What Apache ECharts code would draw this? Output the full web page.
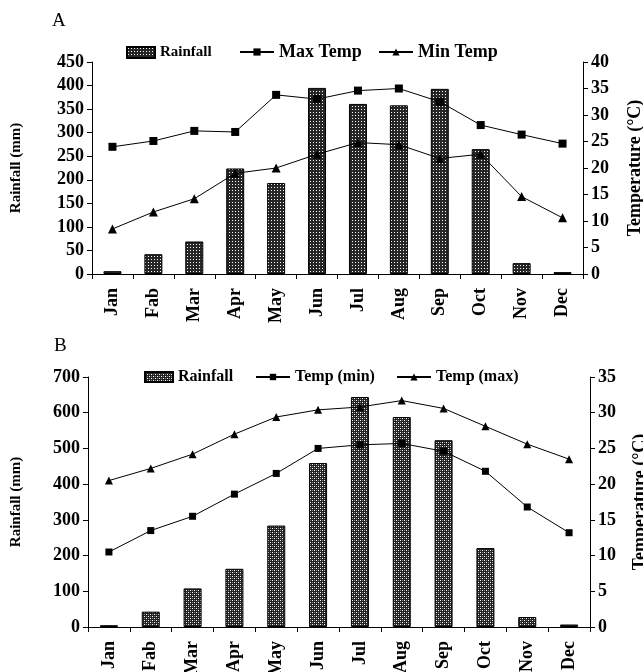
<!DOCTYPE html>
<html>
<head>
<meta charset="utf-8">
<script src="https://cdn.jsdelivr.net/npm/echarts@6/dist/echarts.min.js"></script>
<style>
    body { margin: 0; background: #fff; }
    #myChart { width: 643px; height: 672px; }
</style>
</head>
<body>
<div id="myChart"></div>
<script>
// 月份
const months = ['Jan', 'Fab', 'Mar', 'Apr', 'May', 'Jun', 'Jul', 'Aug', 'Sep', 'Oct', 'Nov', 'Dec']
// A 图数据
const rainA = [6, 42, 69, 224, 193, 395, 361, 358, 393, 265, 23, 4]
const maxTempA = [24.0, 25.1, 27.0, 26.8, 33.8, 33.0, 34.6, 35.0, 32.5, 28.1, 26.3, 24.6]
const minTempA = [8.5, 11.7, 14.2, 19.0, 20.0, 22.6, 24.8, 24.4, 21.8, 22.6, 14.6, 10.6]
// B 图数据
const rainB = [5, 43, 108, 163, 284, 459, 644, 588, 523, 221, 28, 7]
const minTempB = [10.5, 13.5, 15.5, 18.6, 21.5, 25.0, 25.5, 25.7, 24.6, 21.8, 16.8, 13.2]
const maxTempB = [20.5, 22.2, 24.2, 27.0, 29.4, 30.4, 30.8, 31.7, 30.6, 28.1, 25.6, 23.5]

const font = 'Liberation Serif'

// 柱子填充图案
function makePattern(kind) {
    let c = document.createElement('canvas')
    let ctx = c.getContext('2d')
    if (kind === 'dots') {
        c.width = 3
        c.height = 3
        ctx.fillStyle = '#262626'
        ctx.fillRect(0, 0, 3, 3)
        ctx.fillStyle = '#ffffff'
        ctx.fillRect(1, 1, 1, 1)
    } else {
        c.width = 4
        c.height = 4
        ctx.fillStyle = '#222222'
        ctx.fillRect(0, 0, 4, 4)
        ctx.fillStyle = '#ffffff'
        ctx.fillRect(0, 0, 1, 1)
        ctx.fillRect(2, 2, 1, 1)
        ctx.fillStyle = '#888888'
        ctx.fillRect(2, 0, 1, 1)
        ctx.fillRect(0, 2, 1, 1)
    }
    return { image: c, repeat: 'repeat' }
}

function yAxis(gridIndex, pos, max, interval, name, nameGap, nameSize) {
    return {
        type: 'value',
        gridIndex: gridIndex,
        position: pos,
        min: 0,
        max: max,
        interval: interval,
        name: name,
        nameLocation: 'middle',
        nameRotate: 90,
        nameGap: nameGap,
        nameMoveOverlap: false,
        nameTextStyle: { fontFamily: font, fontWeight: 'bold', fontSize: nameSize, color: '#000' },
        axisLine: { show: true, lineStyle: { color: '#000', width: 1 } },
        axisTick: { show: true, length: 5, lineStyle: { color: '#000' } },
        axisLabel: { fontFamily: font, fontWeight: 'bold', fontSize: 18, color: '#000', margin: 8 },
        splitLine: { show: false }
    }
}

function xAxis(gridIndex) {
    return {
        type: 'category',
        gridIndex: gridIndex,
        data: months,
        boundaryGap: true,
        axisLine: { lineStyle: { color: '#000', width: 1 } },
        axisTick: { show: true, length: 5, interval: 0, lineStyle: { color: '#000' } },
        axisLabel: { rotate: 90, interval: 0, margin: 14, fontFamily: font, fontWeight: 'bold', fontSize: 18, color: '#000' }
    }
}

function legend(name, left, top, size, iw, ih, icon) {
    let lg = {
        data: [name],
        left: left,
        top: top,
        itemWidth: iw,
        itemHeight: ih,
        selectedMode: false,
        formatter: function (n) { return n === 'RainfallB' ? 'Rainfall' : n },
        textStyle: { fontFamily: font, fontWeight: 'bold', fontSize: size, color: '#000' }
    }
    if (icon) lg.icon = icon
    return lg
}

let myChart = echarts.init(document.getElementById('myChart'))
let lineStyle = { color: '#000', width: 1 }
let option = {
    animation: false,
    backgroundColor: '#fff',
    title: [
        { text: 'A', left: 47, top: 7, textStyle: { fontFamily: font, fontWeight: 'normal', fontSize: 19, color: '#000' } },
        { text: 'B', left: 49, top: 332, textStyle: { fontFamily: font, fontWeight: 'normal', fontSize: 19, color: '#000' } }
    ],
    legend: [
        legend('Rainfall', 121, 40, 15, 28, 11, 'rect'),
        legend('Max Temp', 234, 38, 18, 34, 9),
        legend('Min Temp', 373, 38, 18, 34, 9),
        legend('RainfallB', 139, 364, 16, 28, 10, 'rect'),
        legend('Temp (min)', 250, 364, 16, 34, 8),
        legend('Temp (max)', 391, 364, 16, 34, 9)
    ],
    grid: [
        { left: 92, right: 60, top: 62, height: 212, outerBoundsMode: 'none' },
        { left: 88, right: 53, top: 377, height: 250, outerBoundsMode: 'none' }
    ],
    xAxis: [xAxis(0), xAxis(1)],
    yAxis: [
        yAxis(0, 'left', 450, 50, 'Rainfall (mm)', 68, 15),
        yAxis(0, 'right', 40, 5, 'Temperature (°C)', 43, 18),
        yAxis(1, 'left', 700, 100, 'Rainfall (mm)', 64, 15),
        yAxis(1, 'right', 35, 5, 'Temperature (°C)', 41, 18)
    ],
    series: [
        {
            name: 'Rainfall',
            type: 'bar',
            xAxisIndex: 0,
            yAxisIndex: 0,
            barWidth: 18,
            itemStyle: { color: makePattern('dots'), borderColor: '#000', borderWidth: 1 },
            data: rainA
        },
        {
            name: 'Max Temp',
            type: 'line',
            xAxisIndex: 0,
            yAxisIndex: 1,
            symbol: 'rect',
            symbolSize: 8,
            itemStyle: { color: '#000' },
            lineStyle: lineStyle,
            data: maxTempA
        },
        {
            name: 'Min Temp',
            type: 'line',
            xAxisIndex: 0,
            yAxisIndex: 1,
            symbol: 'triangle',
            symbolSize: 9,
            itemStyle: { color: '#000' },
            lineStyle: lineStyle,
            data: minTempA
        },
        {
            name: 'RainfallB',
            type: 'bar',
            xAxisIndex: 1,
            yAxisIndex: 2,
            barWidth: 18,
            itemStyle: { color: makePattern('lattice'), borderColor: '#000', borderWidth: 1 },
            data: rainB
        },
        {
            name: 'Temp (min)',
            type: 'line',
            xAxisIndex: 1,
            yAxisIndex: 3,
            symbol: 'rect',
            symbolSize: 7,
            itemStyle: { color: '#000' },
            lineStyle: lineStyle,
            data: minTempB
        },
        {
            name: 'Temp (max)',
            type: 'line',
            xAxisIndex: 1,
            yAxisIndex: 3,
            symbol: 'triangle',
            symbolSize: 8,
            itemStyle: { color: '#000' },
            lineStyle: lineStyle,
            data: maxTempB
        }
    ]
}
myChart.setOption(option)
</script>
</body>
</html>
